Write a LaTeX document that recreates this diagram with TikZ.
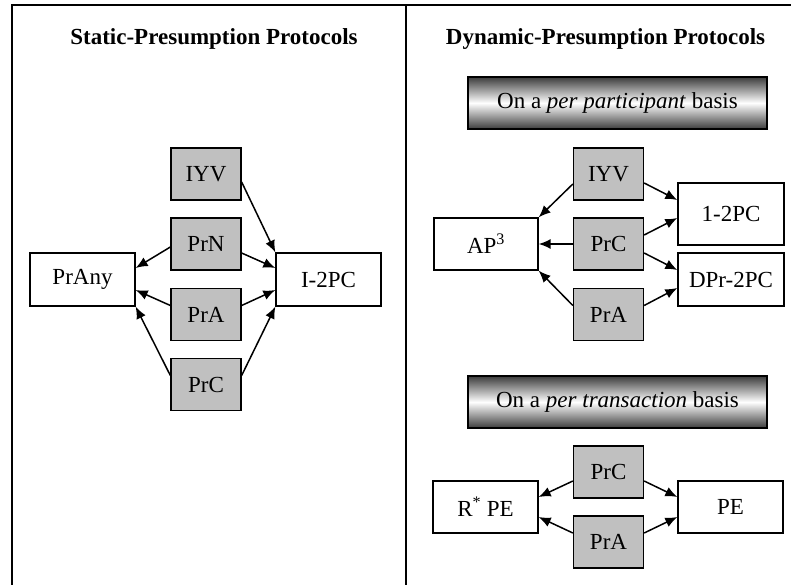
\documentclass[tikz,border=0pt]{standalone}
\usepackage{fontspec}
\setmainfont{Liberation Serif}
\usetikzlibrary{arrows.meta}
\definecolor{boxgray}{RGB}{192,192,192}
\definecolor{bandedge}{RGB}{60,60,60}
\begin{document}
\begin{tikzpicture}[x=1pt,y=-1pt,
  font=\fontsize{23}{27}\selectfont,
  box/.style={draw=black, line width=1.3pt, minimum height=52pt, inner sep=0pt, align=center},
  graybox/.style={box, fill=boxgray, minimum width=70pt},
  whitebox/.style={box, fill=white, minimum width=105pt},
  banner/.style={draw=black, line width=1.5pt, minimum width=299pt, minimum height=52pt, inner sep=0pt,
                 top color=bandedge, bottom color=bandedge, middle color=white},
  heading/.style={font=\fontsize{23}{27}\selectfont\bfseries},
  link/.style={line width=1.5pt, -{Latex[length=12pt,width=10pt]}},
  frameline/.style={line width=2.6pt}
]
\useasboundingbox (0,0) rectangle (791,585);

% outer frame and the divider between the two panels
\begin{scope}
  \clip (0,0) rectangle (791,585);
  \draw[frameline] (12,600) -- (12,5) -- (820,5);
  \draw[frameline] (406,5) -- (406,600);
\end{scope}

% panel headings
\node[heading] (stitle) at (214,39) {Static-Presumption Protocols};
\node[heading] (dtitle) at (605.5,39) {Dynamic-Presumption Protocols};

% ---- static presumption ----
\node[graybox] (siyv) at (206,174) {IYV};
\node[graybox] (sprn) at (206,244) {PrN};
\node[graybox] (spra) at (206,314.5) {PrA};
\node[graybox] (sprc) at (206,384.5) {PrC};
\node[whitebox, minimum height=53pt] (prany) at (82.5,279.5) {PrAny};
\node[whitebox, minimum height=53pt] (i2pc) at (328.5,279.5) {I-2PC};

\draw[link] ([yshift=-8pt]siyv.east) -- (i2pc.north west);
\draw[link] ([yshift=-3pt]sprn.west) -- ([yshift=11.5pt]prany.east);
\draw[link] ([yshift=-9pt]sprn.east) -- ([yshift=11.5pt]i2pc.west);
\draw[link] ([yshift=9pt]spra.west) -- ([yshift=-10.5pt]prany.east);
\draw[link] ([yshift=9pt]spra.east) -- ([yshift=-10.5pt]i2pc.west);
\draw[link] ([yshift=9pt]sprc.west) -- (prany.south east);
\draw[link] ([yshift=9pt]sprc.east) -- (i2pc.south west);

% ---- dynamic presumption, per participant ----
\node[banner] (band1) at (617.5,103) {On a \textit{per participant} basis};
\node[graybox] (diyv) at (608.5,174) {IYV};
\node[graybox] (dprc) at (608.5,244) {PrC};
\node[graybox] (dpra) at (608.5,314.5) {PrA};
\node[whitebox, minimum width=104pt] (ap3) at (486,244) {AP\textsuperscript{3}};
\node[whitebox, minimum width=106pt, minimum height=62pt] (one2pc) at (731,214) {1-2PC};
\node[whitebox, minimum width=106pt, minimum height=53pt] (dpr2pc) at (731,279.5) {DPr-2PC};

\draw[link] ([yshift=-10pt]diyv.west) -- (ap3.north east);
\draw[link] ([yshift=-9pt]diyv.east) -- ([yshift=14pt]one2pc.west);
\draw[link] (dprc.west) -- (ap3.east);
\draw[link] ([yshift=9pt]dprc.east) -- ([yshift=-4pt]one2pc.west);
\draw[link] ([yshift=-9pt]dprc.east) -- ([yshift=9.5pt]dpr2pc.west);
\draw[link] ([yshift=9pt]dpra.west) -- (ap3.south east);
\draw[link] ([yshift=9pt]dpra.east) -- ([yshift=-8.5pt]dpr2pc.west);

% ---- dynamic presumption, per transaction ----
\node[banner] (band2) at (617.5,402) {On a \textit{per transaction} basis};
\node[graybox] (tprc) at (608.5,472) {PrC};
\node[graybox] (tpra) at (608.5,542) {PrA};
\node[whitebox] (rpe) at (485.5,507) {R\textsuperscript{*} PE};
\node[whitebox] (pe) at (730.5,507) {PE};

\draw[link] ([yshift=-9pt]tprc.west) -- ([yshift=10pt]rpe.east);
\draw[link] ([yshift=-9pt]tprc.east) -- ([yshift=10pt]pe.west);
\draw[link] ([yshift=9pt]tpra.west) -- ([yshift=-10pt]rpe.east);
\draw[link] ([yshift=9pt]tpra.east) -- ([yshift=-10pt]pe.west);
\end{tikzpicture}
\end{document}
